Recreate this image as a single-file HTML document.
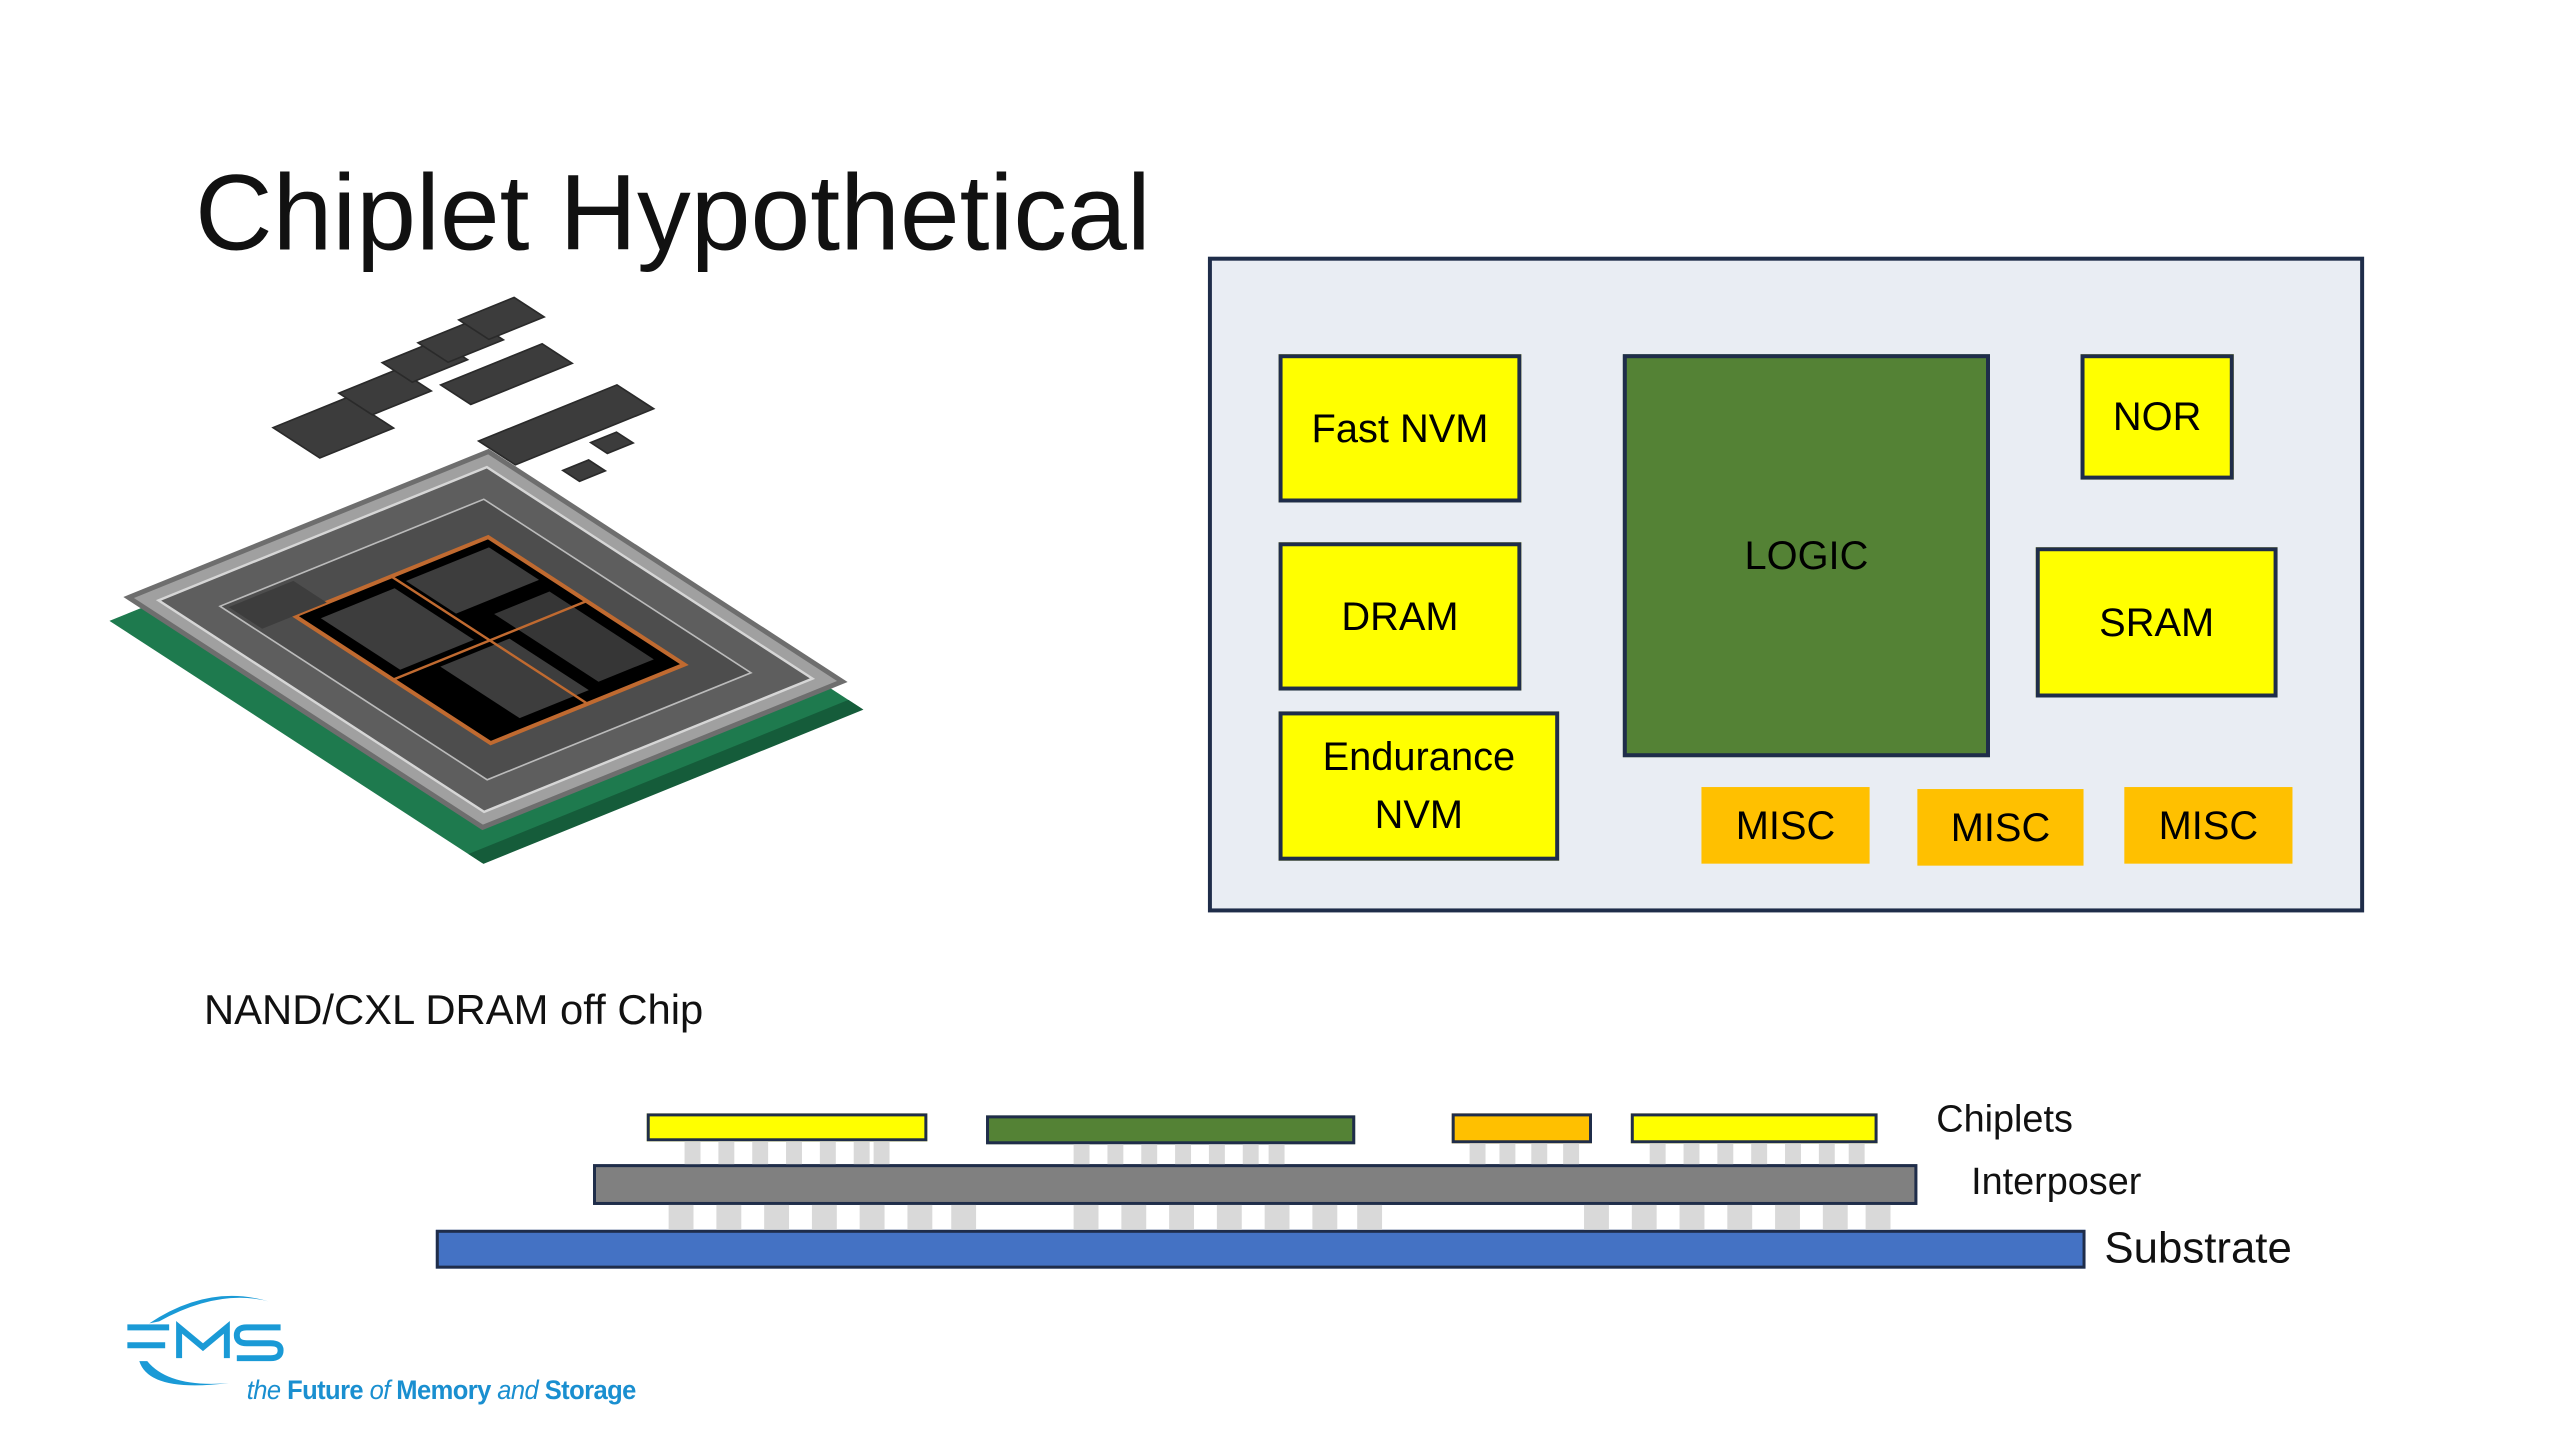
<!DOCTYPE html>
<html><head><meta charset="utf-8"><style>
html,body{margin:0;padding:0;background:#fff;}
body{width:2560px;height:1440px;position:relative;overflow:hidden;font-family:"Liberation Sans",sans-serif;}
#w{position:absolute;left:0;top:0;width:2560px;height:1440px;transform:scale(0.995);transform-origin:0 0;}
.a{position:absolute;box-sizing:border-box;}
.bx{position:absolute;box-sizing:border-box;display:flex;align-items:center;justify-content:center;text-align:center;font-size:40px;color:#000;line-height:1.45;}
.y{background:#ffff00;border:4px solid #1f2d4a;}
.o{background:#ffc000;}
.b{position:absolute;background:#d9d9d9;}
</style></head><body><div id="w">
<div class="a" style="left:196px;top:160px;font-size:108px;line-height:1;color:#111;white-space:nowrap;">Chiplet Hypothetical</div>

<div class="a" style="left:1214px;top:258px;width:1162px;height:659px;background:#e9edf3;border:4px solid #1f2d4a;"></div>
<div class="bx y" style="left:1285px;top:356px;width:244px;height:149px;">Fast NVM</div>
<div class="bx y" style="left:1285px;top:545px;width:244px;height:149px;">DRAM</div>
<div class="bx y" style="left:1285px;top:715px;width:282px;height:150px;">Endurance<br>NVM</div>
<div class="bx" style="left:1631px;top:356px;width:369px;height:405px;background:#548235;border:4px solid #1f2d4a;">LOGIC</div>
<div class="bx y" style="left:2091px;top:356px;width:154px;height:126px;">NOR</div>
<div class="bx y" style="left:2046px;top:550px;width:243px;height:151px;">SRAM</div>
<div class="bx o" style="left:1710px;top:791px;width:169px;height:77px;">MISC</div>
<div class="bx o" style="left:1927px;top:793px;width:167px;height:77px;">MISC</div>
<div class="bx o" style="left:2135px;top:791px;width:169px;height:77px;">MISC</div>

<div class="a" style="left:205px;top:990px;font-size:42px;line-height:50px;color:#111;white-space:nowrap;">NAND/CXL DRAM off Chip</div>

<div class="a" style="left:650px;top:1119px;width:282px;height:28px;background:#ffff00;border:3px solid #1f2d4a;"></div>
<div class="a" style="left:991px;top:1121px;width:371px;height:29px;background:#548235;border:3px solid #1f2d4a;"></div>
<div class="a" style="left:1459px;top:1119px;width:141px;height:30px;background:#ffc000;border:3px solid #1f2d4a;"></div>
<div class="a" style="left:1639px;top:1119px;width:248px;height:30px;background:#ffff00;border:3px solid #1f2d4a;"></div>
<div class="a" style="left:596px;top:1170px;width:1331px;height:41px;background:#808080;border:3px solid #1f2d4a;"></div>
<div class="a" style="left:438px;top:1236px;width:1658px;height:39px;background:#4472c4;border:3px solid #1f2d4a;"></div>
<div class="a" style="left:1946px;top:1103px;font-size:38px;line-height:44px;color:#111;">Chiplets</div>
<div class="a" style="left:1981px;top:1166px;font-size:38px;line-height:44px;color:#111;">Interposer</div>
<div class="a" style="left:2115px;top:1230px;font-size:44px;line-height:50px;color:#111;">Substrate</div>

<div class="b" style="left:688px;top:1147px;width:16px;height:23px"></div>
<div class="b" style="left:722px;top:1147px;width:16px;height:23px"></div>
<div class="b" style="left:756px;top:1147px;width:16px;height:23px"></div>
<div class="b" style="left:790px;top:1147px;width:16px;height:23px"></div>
<div class="b" style="left:824px;top:1147px;width:16px;height:23px"></div>
<div class="b" style="left:858px;top:1147px;width:16px;height:23px"></div>
<div class="b" style="left:878px;top:1147px;width:16px;height:23px"></div>
<div class="b" style="left:1079px;top:1150px;width:16px;height:20px"></div>
<div class="b" style="left:1113px;top:1150px;width:16px;height:20px"></div>
<div class="b" style="left:1147px;top:1150px;width:16px;height:20px"></div>
<div class="b" style="left:1181px;top:1150px;width:16px;height:20px"></div>
<div class="b" style="left:1215px;top:1150px;width:16px;height:20px"></div>
<div class="b" style="left:1249px;top:1150px;width:16px;height:20px"></div>
<div class="b" style="left:1275px;top:1150px;width:16px;height:20px"></div>
<div class="b" style="left:1477px;top:1149px;width:16px;height:21px"></div>
<div class="b" style="left:1507px;top:1149px;width:16px;height:21px"></div>
<div class="b" style="left:1539px;top:1149px;width:16px;height:21px"></div>
<div class="b" style="left:1571px;top:1149px;width:16px;height:21px"></div>
<div class="b" style="left:1658px;top:1149px;width:16px;height:21px"></div>
<div class="b" style="left:1692px;top:1149px;width:16px;height:21px"></div>
<div class="b" style="left:1726px;top:1149px;width:16px;height:21px"></div>
<div class="b" style="left:1760px;top:1149px;width:16px;height:21px"></div>
<div class="b" style="left:1794px;top:1149px;width:16px;height:21px"></div>
<div class="b" style="left:1828px;top:1149px;width:16px;height:21px"></div>
<div class="b" style="left:1858px;top:1149px;width:16px;height:21px"></div>
<div class="b" style="left:672px;top:1211px;width:25px;height:25px"></div>
<div class="b" style="left:720px;top:1211px;width:25px;height:25px"></div>
<div class="b" style="left:768px;top:1211px;width:25px;height:25px"></div>
<div class="b" style="left:816px;top:1211px;width:25px;height:25px"></div>
<div class="b" style="left:864px;top:1211px;width:25px;height:25px"></div>
<div class="b" style="left:912px;top:1211px;width:25px;height:25px"></div>
<div class="b" style="left:956px;top:1211px;width:25px;height:25px"></div>
<div class="b" style="left:1079px;top:1211px;width:25px;height:25px"></div>
<div class="b" style="left:1127px;top:1211px;width:25px;height:25px"></div>
<div class="b" style="left:1175px;top:1211px;width:25px;height:25px"></div>
<div class="b" style="left:1223px;top:1211px;width:25px;height:25px"></div>
<div class="b" style="left:1271px;top:1211px;width:25px;height:25px"></div>
<div class="b" style="left:1319px;top:1211px;width:25px;height:25px"></div>
<div class="b" style="left:1364px;top:1211px;width:25px;height:25px"></div>
<div class="b" style="left:1592px;top:1211px;width:25px;height:25px"></div>
<div class="b" style="left:1640px;top:1211px;width:25px;height:25px"></div>
<div class="b" style="left:1688px;top:1211px;width:25px;height:25px"></div>
<div class="b" style="left:1736px;top:1211px;width:25px;height:25px"></div>
<div class="b" style="left:1784px;top:1211px;width:25px;height:25px"></div>
<div class="b" style="left:1832px;top:1211px;width:25px;height:25px"></div>
<div class="b" style="left:1875px;top:1211px;width:25px;height:25px"></div>

<svg class="a" style="left:0;top:0" width="1000" height="920" viewBox="0 0 1000 920">
 <g transform="matrix(0.927,-0.376,0.839,0.545,110,624)">
  <rect x="0" y="0" width="412" height="446" fill="#1e7a4e"/>
  <rect x="0" y="430" width="412" height="18" fill="#155c3a"/>
 </g>
 <g transform="matrix(0.927,-0.376,0.839,0.545,124,600)">
  <rect x="0" y="0" width="396" height="430" fill="#6e6e6e"/>
  <rect x="6" y="6" width="384" height="418" fill="#a0a0a0"/>
  <rect x="20" y="20" width="356" height="390" fill="#5e5e5e" stroke="#d6d6d6" stroke-width="3"/>
  <rect x="55" y="55" width="286" height="320" fill="#4d4d4d" stroke="#bbb" stroke-width="2"/>
  <rect x="95" y="100" width="210" height="235" fill="#000" stroke="#c06a30" stroke-width="5"/>
  <rect x="110" y="115" width="80" height="95" fill="#3d3d3d"/>
  <rect x="205" y="112" width="90" height="60" fill="#3d3d3d"/>
  <rect x="140" y="225" width="75" height="95" fill="#3d3d3d"/>
  <rect x="230" y="190" width="60" height="125" fill="#363636"/>
  <rect x="60" y="60" width="70" height="40" fill="#3d3d3d"/>
  <line x1="95" y1="218" x2="305" y2="218" stroke="#c06a30" stroke-width="3"/>
  <line x1="200" y1="100" x2="200" y2="335" stroke="#c06a30" stroke-width="3"/>
 </g>
 <g fill="#3c3c3c" stroke="#2a2a2a" stroke-width="2">
  <g transform="translate(335,430) matrix(0.927,-0.376,0.839,0.545,0,0)"><rect x="-40" y="-28" width="80" height="56"/></g>
  <g transform="translate(387,394) matrix(0.927,-0.376,0.839,0.545,0,0)"><rect x="-32" y="-20" width="64" height="40"/></g>
  <g transform="translate(427,363) matrix(0.927,-0.376,0.839,0.545,0,0)"><rect x="-30" y="-18" width="60" height="36"/></g>
  <g transform="translate(463,343) matrix(0.927,-0.376,0.839,0.545,0,0)"><rect x="-30" y="-18" width="60" height="36"/></g>
  <g transform="translate(504,320) matrix(0.927,-0.376,0.839,0.545,0,0)"><rect x="-30" y="-18" width="60" height="36"/></g>
  <g transform="translate(509,376) matrix(0.927,-0.376,0.839,0.545,0,0)"><rect x="-55" y="-18" width="110" height="36"/></g>
  <g transform="translate(569,427) matrix(0.927,-0.376,0.839,0.545,0,0)"><rect x="-75" y="-22" width="150" height="44"/></g>
  <g transform="translate(615,445) matrix(0.927,-0.376,0.839,0.545,0,0)"><rect x="-14" y="-10" width="28" height="20"/></g>
  <g transform="translate(587,473) matrix(0.927,-0.376,0.839,0.545,0,0)"><rect x="-14" y="-10" width="28" height="20"/></g>
 </g>
</svg>

<svg class="a" style="left:100px;top:1290px" width="200" height="120" viewBox="0 0 200 120">
 <path d="M50 40 Q110 0 170 18 Q120 5 60 38 Z" fill="#1a9ad6"/>
 <path d="M40 78 Q50 110 130 100 Q70 105 48 78 Z" fill="#1a9ad6"/>
 <g fill="none" stroke="#1a9ad6" stroke-width="6">
  <path d="M28 44 H70 M28 62 H66"/>
  <path d="M80 75 V44 L104 64 L128 44 V75"/>
  <path d="M182 44 H148 Q138 44 138 52 Q138 60 148 60 H172 Q182 60 182 67 Q182 75 172 75 H138"/>
 </g>
</svg>
<div class="a" style="left:248px;top:1380px;font-size:27px;line-height:34px;color:#1a8fd0;white-space:nowrap;letter-spacing:-0.6px;transform:scaleX(0.95);transform-origin:0 0;"><i>the</i> <b>Future</b> <i>of</i> <b>Memory</b> <i>and</i> <b>Storage</b></div>
</div></body></html>
